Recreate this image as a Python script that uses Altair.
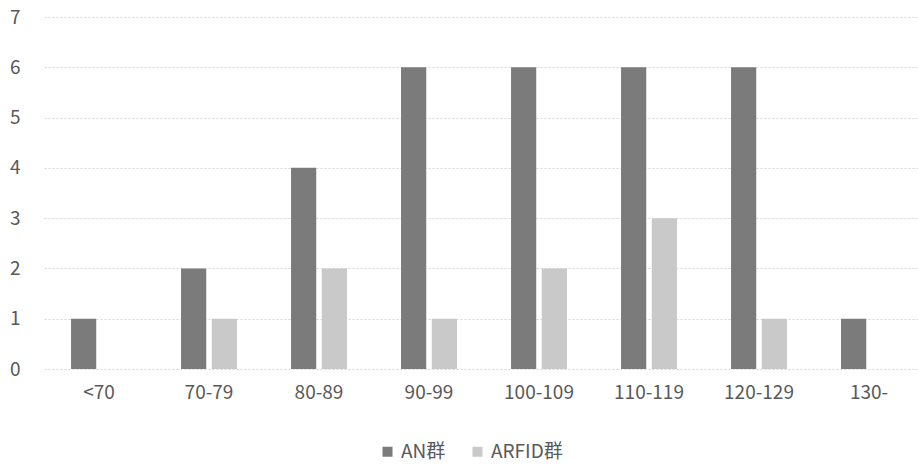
import altair as alt
import pandas as pd

# Score bands and counts per group
bands = ["<70", "70-79", "80-89", "90-99", "100-109", "110-119", "120-129", "130-"]
an_counts = [1, 2, 4, 6, 6, 6, 6, 1]
arfid_counts = [0, 1, 2, 1, 2, 3, 1, 0]
groups = ["AN群", "ARFID群"]
colors = ["#7b7b7b", "#c9c9c9"]

rows = []
for b, a, r in zip(bands, an_counts, arfid_counts):
    rows.append({"band": b, "group": groups[0], "count": a})
    rows.append({"band": b, "group": groups[1], "count": r})
df = pd.DataFrame(rows)

FONT = "Noto Sans CJK JP"
TEXT = "#595959"

chart = alt.Chart(df).mark_bar().encode(
    x=alt.X("band:N", sort=bands, title=None,
            scale=alt.Scale(paddingInner=0, paddingOuter=0, range=[0, 880]),
            axis=alt.Axis(labelAngle=0, domain=False, ticks=False, labelPadding=14,
                          labelFontSize=19, labelColor=TEXT, labelFont=FONT, grid=False)),
    xOffset=alt.XOffset("group:N", sort=groups,
                        scale=alt.Scale(paddingInner=0.18, paddingOuter=0.88)),
    y=alt.Y("count:Q", title=None,
            scale=alt.Scale(domain=[0, 7], nice=False),
            axis=alt.Axis(values=list(range(8)), domain=False, ticks=False, labelPadding=24,
                          labelFontSize=19, labelColor=TEXT, labelFont=FONT,
                          gridColor="#d6d6d6", gridDash=[2, 2], gridWidth=1)),
    color=alt.Color("group:N", sort=groups, title=None,
                    scale=alt.Scale(domain=groups, range=colors),
                    legend=alt.Legend(orient="none", legendX=334, legendY=425,
                                      direction="horizontal", symbolType="square",
                                      symbolSize=100, symbolStrokeWidth=0,
                                      labelFontSize=19, labelColor=TEXT, labelFont=FONT,
                                      columnPadding=22, labelOffset=4)),
).properties(
    width=874, height=352,
    autosize=alt.AutoSizeParams(type="none"),
    padding={"left": 44, "top": 17, "right": 0, "bottom": 99},
).configure_view(stroke=None)

chart.save("out.html", embed_options={"renderer": "svg", "actions": False})
